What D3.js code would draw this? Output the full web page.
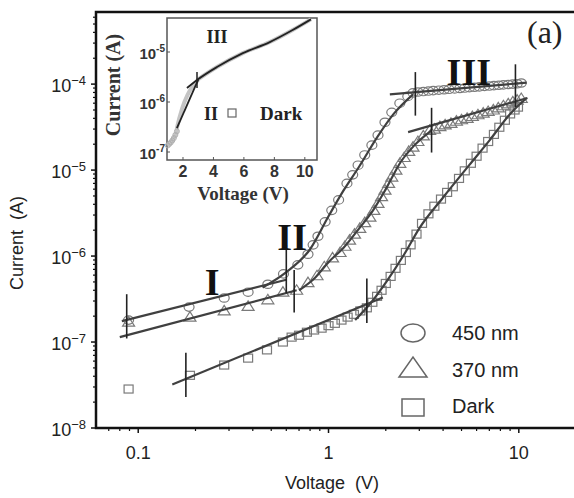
<!DOCTYPE html>
<html>
<head>
<meta charset="utf-8">
<script src="https://cdn.jsdelivr.net/npm/d3@7"></script>
<style>
  body { margin: 0; background: #fff; }
  svg { display: block; }
</style>
</head>
<body>
<svg id="chart" width="574" height="498"></svg>
<script>
// ---- data: [voltage (V), current (A)] ----
var nm450 = [
  [0.089, 1.8e-7], [0.185, 2.55e-7], [0.283, 3.25e-7], [0.378, 3.8e-7], [0.48, 4.7e-7],
  [0.58, 6.2e-7], [0.69, 7.9e-7], [0.78, 1.05e-6], [0.83, 1.35e-6], [0.88, 1.7e-6],
  [0.96, 2.5e-6], [1.04, 3.4e-6], [1.13, 4.5e-6], [1.25, 7.0e-6], [1.34, 8.8e-6],
  [1.43, 1.14e-5], [1.55, 1.5e-5], [1.69, 1.95e-5], [1.82, 2.55e-5], [1.98, 3.6e-5],
  [2.15, 4.7e-5], [2.37, 6.0e-5], [2.61, 7.2e-5], [2.78, 7.9e-5], [2.95, 8.1e-5],
  [3.15, 8.2e-5], [3.35, 8.3e-5], [3.55, 8.4e-5], [3.8, 8.5e-5], [4.05, 8.6e-5],
  [4.3, 8.7e-5], [4.6, 8.8e-5], [4.9, 8.9e-5], [5.2, 9.0e-5], [5.5, 9.1e-5],
  [5.85, 9.2e-5], [6.2, 9.3e-5], [6.6, 9.4e-5], [7.0, 9.5e-5], [7.4, 9.6e-5],
  [7.85, 9.7e-5], [8.3, 9.8e-5], [8.8, 9.9e-5], [9.3, 1.0e-4], [9.8, 1.01e-4], [10.3, 1.03e-4]
];
var nm370 = [
  [0.089, 1.7e-7], [0.187, 1.95e-7], [0.283, 2.3e-7], [0.378, 2.6e-7], [0.48, 3.1e-7],
  [0.576, 3.8e-7], [0.68, 4.0e-7], [0.78, 4.9e-7], [0.87, 5.9e-7], [0.95, 7.5e-7],
  [1.05, 9.5e-7], [1.15, 1.1e-6], [1.22, 1.3e-6], [1.29, 1.53e-6], [1.37, 1.8e-6],
  [1.46, 2.1e-6], [1.55, 2.45e-6], [1.65, 2.84e-6], [1.73, 3.4e-6], [1.82, 4.1e-6],
  [1.9, 4.9e-6], [1.98, 5.85e-6], [2.07, 7.0e-6], [2.15, 8.3e-6], [2.26, 1.0e-5],
  [2.37, 1.2e-5], [2.5, 1.4e-5], [2.64, 1.65e-5], [2.78, 1.85e-5], [2.95, 2.15e-5],
  [3.15, 2.5e-5], [3.4, 2.9e-5], [3.6, 3.0e-5], [3.85, 3.2e-5], [4.1, 3.35e-5],
  [4.4, 3.5e-5], [4.7, 3.7e-5], [5.0, 3.85e-5], [5.35, 4.0e-5], [5.7, 4.2e-5],
  [6.1, 4.4e-5], [6.5, 4.6e-5], [6.9, 4.8e-5], [7.35, 5.0e-5], [7.8, 5.3e-5],
  [8.3, 5.6e-5], [8.8, 5.9e-5], [9.3, 6.2e-5], [9.8, 6.5e-5], [10.3, 6.8e-5]
];
var dark = [
  [0.089, 2.84e-8], [0.187, 4.1e-8], [0.283, 5.4e-8], [0.378, 6.5e-8], [0.475, 8.1e-8],
  [0.576, 1.0e-7], [0.64, 1.14e-7], [0.7, 1.2e-7], [0.77, 1.3e-7], [0.84, 1.38e-7],
  [0.92, 1.45e-7], [1.0, 1.55e-7], [1.08, 1.65e-7], [1.17, 1.8e-7], [1.26, 1.95e-7],
  [1.36, 2.1e-7], [1.47, 2.3e-7], [1.59, 2.5e-7], [1.7, 2.9e-7], [1.8, 3.4e-7],
  [1.9, 4.0e-7], [2.0, 4.8e-7], [2.12, 5.8e-7], [2.25, 7.2e-7], [2.4, 8.9e-7],
  [2.55, 1.1e-6], [2.7, 1.35e-6], [2.9, 1.8e-6], [3.1, 2.4e-6], [3.35, 3.1e-6],
  [3.6, 3.8e-6], [3.9, 4.6e-6], [4.2, 5.5e-6], [4.5, 6.4e-6], [4.85, 8.0e-6],
  [5.2, 9.8e-6], [5.6, 1.2e-5], [6.0, 1.45e-5], [6.45, 1.8e-5], [6.9, 2.15e-5],
  [7.4, 2.6e-5], [7.9, 3.15e-5], [8.45, 3.8e-5], [9.0, 4.5e-5], [9.5, 5.0e-5], [9.9, 5.4e-5]
];

// fitted lines (regions I, II, III)
var fit450 = [
  [[0.082, 1.75e-7], [0.6, 5.3e-7]],
  [[0.45, 4.3e-7], [0.6, 6.5e-7], [0.8, 1.2e-6], [1.0, 2.9e-6], [1.2, 5.8e-6], [1.45, 1.1e-5], [1.8, 2.4e-5], [2.2, 4.5e-5], [2.78, 7.6e-5]],
  [[2.1, 7.6e-5], [11, 1.04e-4]]
];
var fit370 = [
  [[0.080, 1.14e-7], [0.68, 4.0e-7]],
  [[0.7, 4.0e-7], [0.85, 5.6e-7], [1.0, 8.5e-7], [1.2, 1.25e-6], [1.45, 2.1e-6], [1.7, 3.3e-6], [2.0, 6.0e-6], [2.4, 1.25e-5], [2.8, 1.9e-5], [3.48, 2.9e-5]],
  [[2.62, 2.76e-5], [11.1, 6.9e-5]]
];
var fitDark = [
  [[0.151, 3.2e-8], [1.93, 3.3e-7]],
  [[1.38, 1.8e-7], [1.7, 3.0e-7], [2.0, 4.9e-7], [2.5, 1.05e-6], [3.0, 2.1e-6], [4.0, 4.8e-6], [5.5, 1.15e-5], [7.0, 2.2e-5], [9.0, 4.5e-5], [11.0, 6.9e-5]]
];
// region boundary marks: [voltage, lower current, upper current]
var boundaries = [
  [0.087, 1.1e-7, 3.6e-7], [0.6, 3.7e-7, 1.34e-6], [0.66, 2.2e-7, 6.9e-7],
  [0.178, 2.3e-8, 7.5e-8], [1.59, 1.66e-7, 5.5e-7], [2.86, 4.3e-5, 1.38e-4],
  [3.48, 1.6e-5, 5.3e-5], [9.6, 5.4e-5, 1.7e-4]
];
var regionLabels = [["I", 0.245, 3.5e-7], ["II", 0.644, 1.17e-6], ["III", 5.46, 9.7e-5]];

var xTicks = [0.1, 1, 10];
var yTicks = [-8, -7, -6, -5, -4];

// inset (dark curve, linear voltage axis)
var insetLow = [[1.0, 1.35e-7], [1.1, 1.45e-7], [1.2, 1.55e-7], [1.3, 1.7e-7], [1.4, 1.9e-7], [1.5, 2.2e-7], [1.6, 2.6e-7]];
var insetFitII = [[1.6, 3.0e-7], [3.0, 2.8e-6]];
var insetFitIII = [[2.26, 1.9e-6], [2.92, 2.75e-6], [4.23, 5.0e-6], [5.93, 9.5e-6], [7.7, 1.58e-5], [9.2, 2.75e-5], [10.4, 4.5e-5]];
var insetBoundary = [2.92, 1.9e-6, 4.0e-6];
var insetXTicks = [2, 4, 6, 8, 10];
var insetYTicks = [-7, -6, -5];

var svg = d3.select("#chart");
var x = d3.scaleLog().domain([0.06, 19.5]).range([96, 574]);
var y = d3.scaleLog().domain([1e-8, 6.9e-4]).range([428, 12]);

var sans = "Liberation Sans, Arial, sans-serif";
var serif = "Liberation Serif, Times New Roman, serif";
var markColor = "#7a7a7a";

// ---- markers ----
function drawMarkers(data, shape) {
  var g = svg.append("g").attr("fill", "none").attr("stroke", markColor).attr("stroke-width", 1.2);
  data.forEach(function (d) {
    var cx = x(d[0]), cy = y(d[1]);
    if (shape == "circle") {
      g.append("ellipse").attr("cx", cx).attr("cy", cy).attr("rx", 5).attr("ry", 4.2);
    } else if (shape == "triangle") {
      g.append("path").attr("d", "M" + (cx - 6) + "," + (cy + 4) + "L" + (cx + 6) + "," + (cy + 4) + "L" + cx + "," + (cy - 5.5) + "Z");
    } else {
      g.append("rect").attr("x", cx - 4.5).attr("y", cy - 4).attr("width", 9).attr("height", 8);
    }
  });
}
drawMarkers(nm450, "circle");
drawMarkers(nm370, "triangle");
drawMarkers(dark, "square");

// ---- fit lines ----
var fitLine = d3.line().x(function (d) { return x(d[0]); }).y(function (d) { return y(d[1]); })
  .curve(d3.curveMonotoneX);
[fit450, fit370, fitDark].forEach(function (set) {
  set.forEach(function (seg) {
    svg.append("path").attr("d", fitLine(seg)).attr("fill", "none")
      .attr("stroke", "#404040").attr("stroke-width", 2.2);
  });
});
boundaries.forEach(function (b) {
  svg.append("line").attr("x1", x(b[0])).attr("x2", x(b[0]))
    .attr("y1", y(b[1])).attr("y2", y(b[2]))
    .attr("stroke", "#222").attr("stroke-width", 1.6);
});
regionLabels.forEach(function (r) {
  svg.append("text").attr("x", x(r[1])).attr("y", y(r[2]))
    .attr("text-anchor", "middle").attr("font-family", serif).attr("font-weight", "bold")
    .attr("font-size", 38).attr("fill", "#111").text(r[0]);
});

// ---- axes ----
var minorX = [];
[0.01, 0.1, 1, 10].forEach(function (dec) {
  for (var k = 2; k <= 9; k++) {
    var v = dec * k;
    if (v > 0.06 && v < 19.5) minorX.push(v);
  }
});
var minorY = [];
for (var e = -8; e <= -4; e++) {
  for (var k = 2; k <= 9; k++) {
    var v = k * Math.pow(10, e);
    if (v < 6.9e-4) minorY.push(v);
  }
}
var axes = svg.append("g").attr("stroke", "#111");
minorX.forEach(function (v) {
  axes.append("line").attr("x1", x(v)).attr("x2", x(v)).attr("y1", 428).attr("y2", 431).attr("stroke-width", 1.2);
});
xTicks.forEach(function (v) {
  axes.append("line").attr("x1", x(v)).attr("x2", x(v)).attr("y1", 428).attr("y2", 433).attr("stroke-width", 1.5);
});
minorY.forEach(function (v) {
  axes.append("line").attr("x1", 93).attr("x2", 96).attr("y1", y(v)).attr("y2", y(v)).attr("stroke-width", 1.2);
});
yTicks.forEach(function (e) {
  axes.append("line").attr("x1", 91).attr("x2", 96).attr("y1", y(Math.pow(10, e))).attr("y2", y(Math.pow(10, e))).attr("stroke-width", 1.5);
});
axes.append("path").attr("d", "M574,12H96V428H574").attr("fill", "none").attr("stroke-width", 2.5);

xTicks.forEach(function (v) {
  svg.append("text").attr("x", x(v)).attr("y", 459).attr("text-anchor", "middle")
    .attr("font-family", sans).attr("font-size", 18).attr("fill", "#222").text(d3.format("~g")(v));
});
yTicks.forEach(function (e) {
  var t = svg.append("text").attr("x", 86).attr("y", y(Math.pow(10, e)) + 8)
    .attr("text-anchor", "end").attr("font-family", sans).attr("font-size", 18).attr("fill", "#222");
  t.append("tspan").text("10");
  t.append("tspan").attr("dy", -7).attr("font-size", 13).text("\u2212" + (-e));
});
svg.append("text").attr("x", 332).attr("y", 489).attr("text-anchor", "middle")
  .attr("font-family", sans).attr("font-size", 18).attr("fill", "#222").attr("xml:space", "preserve")
  .text("Voltage  (V)");
svg.append("text").attr("transform", "translate(23,243) rotate(-90)").attr("text-anchor", "middle")
  .attr("font-family", sans).attr("font-size", 18).attr("fill", "#222").attr("xml:space", "preserve")
  .text("Current  (A)");
svg.append("text").attr("x", 527).attr("y", 43).attr("font-family", serif).attr("font-size", 32)
  .attr("fill", "#222").text("(a)");

// ---- legend ----
var leg = svg.append("g").attr("fill", "none").attr("stroke", "#666").attr("stroke-width", 1.5);
leg.append("ellipse").attr("cx", 413).attr("cy", 333).attr("rx", 12).attr("ry", 9);
leg.append("path").attr("d", "M399,377L427,377L413,357Z");
leg.append("rect").attr("x", 402).attr("y", 399).attr("width", 22).attr("height", 17);
[["450 nm", 340], ["370 nm", 377], ["Dark", 413]].forEach(function (l) {
  svg.append("text").attr("x", 452).attr("y", l[1]).attr("font-family", sans).attr("font-size", 20)
    .attr("fill", "#222").text(l[0]);
});

// ---- inset ----
var ix = d3.scaleLinear().domain([0.95, 10.8]).range([167, 317]);
var iy = d3.scaleLog().domain([Math.pow(10, -7.16), Math.pow(10, -4.32)]).range([160, 18]);
var inset = svg.append("g");
inset.append("rect").attr("x", 167).attr("y", 18).attr("width", 150).attr("height", 142)
  .attr("fill", "#fff").attr("stroke", "#555").attr("stroke-width", 1.5);
var iline = d3.line().x(function (d) { return ix(d[0]); }).y(function (d) { return iy(d[1]); }).curve(d3.curveMonotoneX);
inset.append("path").attr("d", iline(insetLow.concat(insetFitII))).attr("fill", "none")
  .attr("stroke", "#c4c4c4").attr("stroke-width", 4);
inset.append("path").attr("d", iline(insetFitIII.slice(1))).attr("fill", "none")
  .attr("stroke", "#c4c4c4").attr("stroke-width", 4);
insetLow.forEach(function (d) {
  inset.append("circle").attr("cx", ix(d[0])).attr("cy", iy(d[1])).attr("r", 2.5)
    .attr("fill", "none").attr("stroke", "#b0b0b0").attr("stroke-width", 1);
});
inset.append("path").attr("d", iline(insetFitII)).attr("fill", "none").attr("stroke", "#222").attr("stroke-width", 1.8);
inset.append("path").attr("d", iline(insetFitIII)).attr("fill", "none").attr("stroke", "#222").attr("stroke-width", 1.8);
inset.append("line").attr("x1", ix(insetBoundary[0])).attr("x2", ix(insetBoundary[0]))
  .attr("y1", iy(insetBoundary[1])).attr("y2", iy(insetBoundary[2])).attr("stroke", "#222").attr("stroke-width", 1.5);

insetXTicks.forEach(function (v) {
  inset.append("line").attr("x1", ix(v)).attr("x2", ix(v)).attr("y1", 160).attr("y2", 157).attr("stroke", "#555");
  inset.append("text").attr("x", ix(v)).attr("y", 177).attr("text-anchor", "middle")
    .attr("font-family", sans).attr("font-weight", "bold").attr("font-size", 16).attr("fill", "#333").text(v);
});
insetYTicks.forEach(function (e) {
  inset.append("line").attr("x1", 167).attr("x2", 170).attr("y1", iy(Math.pow(10, e))).attr("y2", iy(Math.pow(10, e))).attr("stroke", "#555");
  var t = inset.append("text").attr("x", 165).attr("y", iy(Math.pow(10, e)) + 7)
    .attr("text-anchor", "end").attr("font-family", sans).attr("font-weight", "bold")
    .attr("font-size", 15).attr("fill", "#333");
  t.append("tspan").text("10");
  t.append("tspan").attr("dy", -7).attr("font-size", 10).text("-" + (-e));
});
inset.append("text").attr("x", 243).attr("y", 200).attr("text-anchor", "middle")
  .attr("font-family", serif).attr("font-weight", "bold").attr("font-size", 19).attr("fill", "#333")
  .text("Voltage (V)");
inset.append("text").attr("transform", "translate(120,85) rotate(-90)").attr("text-anchor", "middle")
  .attr("font-family", serif).attr("font-weight", "bold").attr("font-size", 20).attr("fill", "#333")
  .text("Current (A)");
inset.append("text").attr("x", 217).attr("y", 43).attr("text-anchor", "middle")
  .attr("font-family", serif).attr("font-weight", "bold").attr("font-size", 18).attr("fill", "#222").text("III");
inset.append("text").attr("x", 211).attr("y", 120).attr("text-anchor", "middle")
  .attr("font-family", serif).attr("font-weight", "bold").attr("font-size", 18).attr("fill", "#222").text("II");
inset.append("rect").attr("x", 228).attr("y", 109).attr("width", 8).attr("height", 8)
  .attr("fill", "none").attr("stroke", "#666").attr("stroke-width", 1.2);
inset.append("text").attr("x", 260).attr("y", 120)
  .attr("font-family", serif).attr("font-weight", "bold").attr("font-size", 19).attr("fill", "#222").text("Dark");
</script>
</body>
</html>
